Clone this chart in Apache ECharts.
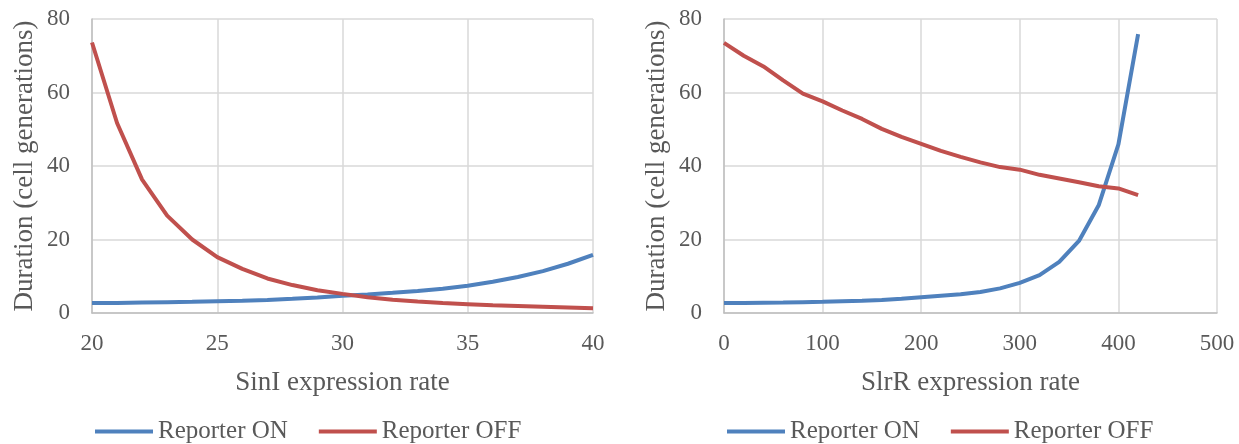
<!DOCTYPE html>
<html>
<head>
<meta charset="utf-8">
<script src="https://cdn.jsdelivr.net/npm/echarts@6/dist/echarts.min.js"></script>
<style>
  html, body { margin: 0; padding: 0; background: #ffffff; }
  #chart { width: 1239px; height: 444px; }
</style>
</head>
<body>
<div id="chart"></div>
<script>
// SinI panel: expression rate vs. duration of each reporter state
const sinIRate = [20, 21, 22, 23, 24, 25, 26, 27, 28, 29, 30, 31, 32, 33, 34, 35, 36, 37, 38, 39, 40];
const sinIOn   = [2.7, 2.75, 2.85, 2.95, 3.05, 3.2, 3.35, 3.55, 3.85, 4.25, 4.7, 5.05, 5.5, 6.0, 6.6, 7.4, 8.5, 9.8, 11.4, 13.4, 15.8];
const sinIOff  = [73.6, 51.7, 36.3, 26.5, 20.0, 15.2, 12.0, 9.4, 7.6, 6.2, 5.2, 4.3, 3.6, 3.1, 2.7, 2.4, 2.1, 1.9, 1.7, 1.5, 1.3];

// SlrR panel
const slrRRate = [0, 20, 40, 60, 80, 100, 120, 140, 160, 180, 200, 220, 240, 260, 280, 300, 320, 340, 360, 380, 400, 420];
const slrROn   = [2.7, 2.75, 2.8, 2.85, 2.95, 3.05, 3.2, 3.35, 3.55, 3.9, 4.3, 4.7, 5.1, 5.7, 6.7, 8.2, 10.3, 13.9, 19.6, 29.3, 45.9, 75.9];
const slrROff  = [73.5, 70.0, 67.1, 63.3, 59.7, 57.6, 55.1, 52.8, 50.1, 47.9, 46.0, 44.1, 42.5, 41.0, 39.7, 39.0, 37.6, 36.6, 35.6, 34.5, 33.9, 32.1];

// axis settings
const sinITicks = { min: 20, max: 40, interval: 5 };
const slrRTicks = { min: 0, max: 500, interval: 100 };
const durationTicks = { min: 0, max: 80, interval: 20 };

const seriesNames = ['Reporter ON', 'Reporter OFF'];
const xTitles = ['SinI expression rate', 'SlrR expression rate'];
const yTitle = 'Duration (cell generations)';

const FONT = "'Liberation Serif', 'Times New Roman', serif";
const BLUE = '#4F81BD';
const RED = '#C0504D';
const GRID = '#D9D9D9';
const AXIS = '#BFBFBF';
const TEXT = '#595959';

const pairs = (xs, ys) => xs.map((x, i) => [x, ys[i]]);

function xAxisFor(idx, ticks, title) {
  return {
    type: 'value', gridIndex: idx,
    min: ticks.min, max: ticks.max, interval: ticks.interval,
    name: title, nameLocation: 'middle', nameGap: 56,
    nameTextStyle: { fontFamily: FONT, fontSize: 27, color: TEXT },
    axisLine: { show: true, lineStyle: { color: AXIS, width: 1.5 } },
    axisTick: { show: false },
    axisLabel: { fontFamily: FONT, fontSize: 23, color: TEXT, margin: 19 },
    splitLine: { show: true, lineStyle: { color: GRID, width: 1.5 } }
  };
}

function yAxisFor(idx) {
  return {
    type: 'value', gridIndex: idx,
    min: durationTicks.min, max: durationTicks.max, interval: durationTicks.interval,
    name: yTitle, nameLocation: 'middle', nameGap: 54,
    nameTextStyle: { fontFamily: FONT, fontSize: 27, color: TEXT },
    axisLine: { show: true, lineStyle: { color: AXIS, width: 1.5 } },
    axisTick: { show: false },
    axisLabel: { fontFamily: FONT, fontSize: 23, color: TEXT, margin: 22 },
    splitLine: { show: true, lineStyle: { color: GRID, width: 1.5 } }
  };
}

function lineSeries(name, color, idx, data) {
  return {
    name, type: 'line', xAxisIndex: idx, yAxisIndex: idx,
    data, showSymbol: false, symbol: 'none', smooth: false,
    lineStyle: { color, width: 4 }, itemStyle: { color },
    animation: false
  };
}

function legendFor(leftX) {
  return {
    data: seriesNames, top: 414, left: leftX,
    icon: 'rect', itemWidth: 58, itemHeight: 4, itemGap: 31,
    textStyle: { fontFamily: FONT, fontSize: 25, color: TEXT },
    selectedMode: false
  };
}

const chart = echarts.init(document.getElementById('chart'), null, { renderer: 'canvas' });
chart.setOption({
  backgroundColor: '#ffffff',
  animation: false,
  grid: [
    { left: 92, top: 19, width: 501, height: 294 },
    { left: 724, top: 19, width: 493, height: 294 }
  ],
  xAxis: [xAxisFor(0, sinITicks, xTitles[0]), xAxisFor(1, slrRTicks, xTitles[1])],
  yAxis: [yAxisFor(0), yAxisFor(1)],
  legend: [legendFor(90), legendFor(722)],
  series: [
    lineSeries(seriesNames[0], BLUE, 0, pairs(sinIRate, sinIOn)),
    lineSeries(seriesNames[1], RED, 0, pairs(sinIRate, sinIOff)),
    lineSeries(seriesNames[0], BLUE, 1, pairs(slrRRate, slrROn)),
    lineSeries(seriesNames[1], RED, 1, pairs(slrRRate, slrROff))
  ]
});
</script>
</body>
</html>
